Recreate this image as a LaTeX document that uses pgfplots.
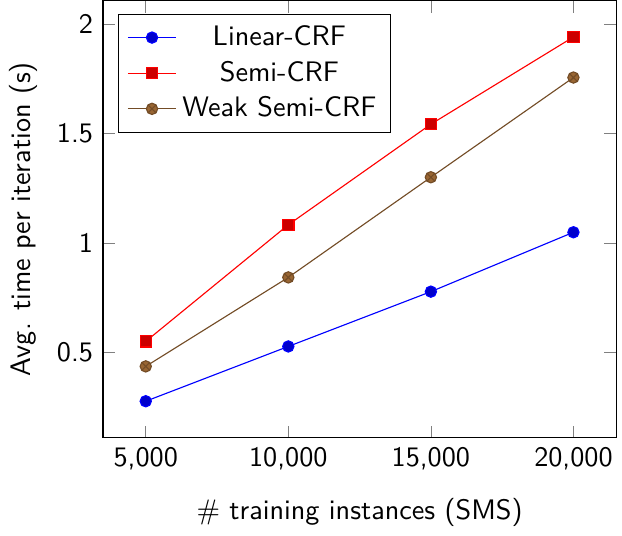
\documentclass[border=0pt]{standalone}
\usepackage{pgfplots}
\pgfplotsset{compat=1.18}
\renewcommand{\familydefault}{\sfdefault}

\begin{document}
\begin{tikzpicture}
\begin{axis}[
    scale only axis,
    width=182pt,
    height=155pt,
    font=\sffamily,
    /pgf/number format/assume math mode=true,
    scaled ticks=false,
    xtick={5000,10000,15000,20000},
    ytick={0.5,1,1.5,2},
    xlabel={$\#$ training instances (SMS)},
    ylabel={Avg. time per iteration (s)},
    xlabel style={yshift=-3pt},
    legend pos=north west,
    legend cell align=center,
]
\addplot coordinates {
    (5000,0.278) (10000,0.528) (15000,0.778) (20000,1.049)
};
\addlegendentry{Linear-CRF}
\addplot coordinates {
    (5000,0.551) (10000,1.083) (15000,1.542) (20000,1.940)
};
\addlegendentry{Semi-CRF}
\addplot coordinates {
    (5000,0.437) (10000,0.843) (15000,1.300) (20000,1.755)
};
\addlegendentry{Weak Semi-CRF}
\end{axis}
\end{tikzpicture}
\end{document}
